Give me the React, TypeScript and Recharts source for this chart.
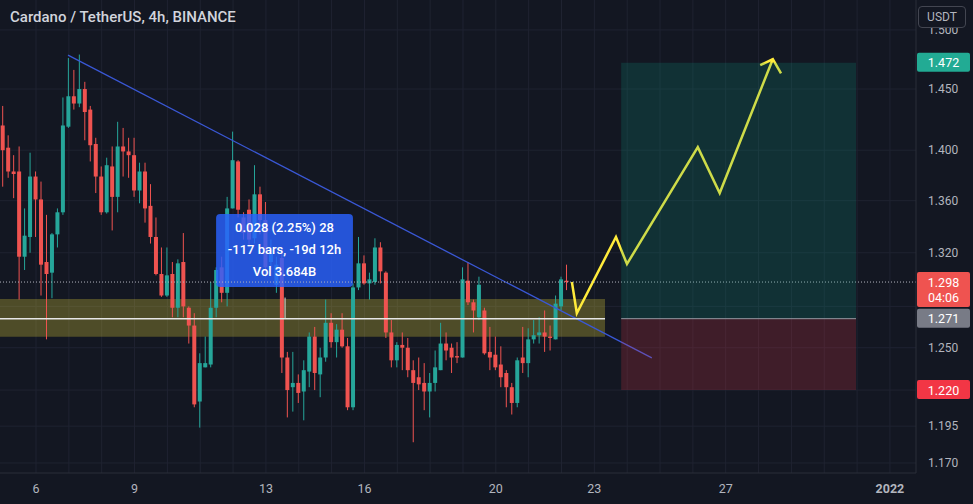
import {
  Bar,
  CartesianGrid,
  ComposedChart,
  Line,
  ReferenceArea,
  ReferenceLine,
  XAxis,
  YAxis,
} from "recharts";

const BG = "#131722";
const UP = "#26a69a";
const DOWN = "#ef5350";
const TEXT = "#b2b5be";
const FONT = "Roboto, 'Noto Sans', sans-serif";

// ADA/USDT 4h candles, index 0 = Dec 5 00:00
const opens = [
  1.420, 1.402, 1.383, 1.383, 1.317, 1.332, 1.379, 1.361, 1.313, 1.305,
  1.334, 1.351, 1.419, 1.444, 1.438, 1.450, 1.433, 1.405, 1.379, 1.351,
  1.387, 1.363, 1.403, 1.399, 1.396, 1.368, 1.383, 1.356, 1.332, 1.304,
  1.288, 1.304, 1.279, 1.313, 1.279, 1.266, 1.212, 1.236, 1.238, 1.279,
  1.309, 1.290, 1.354, 1.391, 1.347, 1.353, 1.331, 1.365, 1.345, 1.313,
  1.296, 1.316, 1.243, 1.222, 1.225, 1.219, 1.233, 1.258, 1.231, 1.243,
  1.268, 1.254, 1.263, 1.251, 1.208, 1.294, 1.312, 1.297, 1.298, 1.324,
  1.305, 1.261, 1.241, 1.252, 1.250, 1.234, 1.229, 1.225, 1.219, 1.225,
  1.234, 1.253, 1.250, 1.244, 1.243, 1.299, 1.283, 1.272, 1.277, 1.247,
  1.245, 1.238, 1.232, 1.222, 1.211, 1.243, 1.239, 1.256, 1.259, 1.261,
  1.258, 1.256, 1.280, 1.299,
];
const highs = [
  1.436, 1.412, 1.396, 1.403, 1.354, 1.398, 1.383, 1.375, 1.349, 1.335,
  1.354, 1.443, 1.476, 1.466, 1.479, 1.456, 1.436, 1.410, 1.387, 1.394,
  1.403, 1.423, 1.418, 1.410, 1.410, 1.390, 1.390, 1.373, 1.347, 1.324,
  1.324, 1.313, 1.315, 1.335, 1.280, 1.275, 1.246, 1.258, 1.298, 1.309,
  1.317, 1.363, 1.415, 1.392, 1.351, 1.361, 1.388, 1.371, 1.359, 1.330,
  1.317, 1.322, 1.247, 1.247, 1.231, 1.241, 1.261, 1.265, 1.250, 1.285,
  1.275, 1.267, 1.275, 1.257, 1.297, 1.332, 1.318, 1.305, 1.331, 1.328,
  1.306, 1.270, 1.254, 1.261, 1.257, 1.241, 1.243, 1.239, 1.232, 1.248,
  1.268, 1.261, 1.253, 1.254, 1.309, 1.313, 1.285, 1.302, 1.279, 1.265,
  1.258, 1.251, 1.234, 1.225, 1.243, 1.265, 1.264, 1.270, 1.272, 1.277,
  1.266, 1.288, 1.302, 1.311,
];
const lows = [
  1.371, 1.378, 1.362, 1.285, 1.307, 1.320, 1.332, 1.288, 1.256, 1.286,
  1.324, 1.349, 1.418, 1.433, 1.435, 1.408, 1.391, 1.366, 1.349, 1.350,
  1.337, 1.351, 1.379, 1.378, 1.363, 1.358, 1.343, 1.327, 1.303, 1.287,
  1.287, 1.272, 1.272, 1.272, 1.253, 1.208, 1.194, 1.236, 1.236, 1.272,
  1.283, 1.280, 1.354, 1.347, 1.330, 1.324, 1.327, 1.334, 1.302, 1.307,
  1.290, 1.232, 1.201, 1.205, 1.211, 1.199, 1.222, 1.220, 1.215, 1.240,
  1.250, 1.243, 1.250, 1.206, 1.206, 1.292, 1.296, 1.285, 1.296, 1.297,
  1.257, 1.236, 1.236, 1.234, 1.229, 1.184, 1.220, 1.206, 1.201, 1.219,
  1.234, 1.241, 1.232, 1.239, 1.243, 1.281, 1.261, 1.270, 1.245, 1.234,
  1.234, 1.222, 1.208, 1.203, 1.208, 1.232, 1.229, 1.253, 1.253, 1.247,
  1.248, 1.256, 1.277, 1.292,
];
const closes = [
  1.400, 1.383, 1.381, 1.317, 1.333, 1.379, 1.361, 1.311, 1.304, 1.334,
  1.351, 1.420, 1.444, 1.438, 1.450, 1.431, 1.404, 1.379, 1.351, 1.388,
  1.363, 1.403, 1.399, 1.396, 1.368, 1.383, 1.354, 1.332, 1.304, 1.288,
  1.303, 1.279, 1.312, 1.280, 1.266, 1.210, 1.239, 1.239, 1.279, 1.307,
  1.290, 1.354, 1.392, 1.353, 1.335, 1.330, 1.365, 1.345, 1.309, 1.322,
  1.311, 1.243, 1.220, 1.225, 1.218, 1.234, 1.258, 1.232, 1.243, 1.268,
  1.254, 1.263, 1.251, 1.208, 1.294, 1.312, 1.297, 1.300, 1.324, 1.306,
  1.261, 1.241, 1.252, 1.250, 1.234, 1.225, 1.224, 1.219, 1.225, 1.236,
  1.253, 1.248, 1.243, 1.243, 1.300, 1.283, 1.277, 1.296, 1.246, 1.243,
  1.236, 1.229, 1.222, 1.211, 1.241, 1.239, 1.256, 1.259, 1.261, 1.258,
  1.257, 1.282, 1.300, 1.298,
];

// time axis (candle index of each day label)
const xTicks = [6, 24, 48, 66, 90, 108, 132, 162];
const xLabels = ["6", "9", "13", "16", "20", "23", "27", "2022"];
const dayLines = [
  6, 12, 18, 24, 30, 36, 42, 48, 54, 60, 66, 72, 78, 84, 90, 96, 102, 108,
  114, 120, 126, 132, 138, 144, 150, 156, 162,
];
const yTicks = [1.17, 1.195, 1.25, 1.32, 1.36, 1.4, 1.45, 1.5];
const yGrid = [1.17, 1.195, 1.22, 1.25, 1.28, 1.32, 1.36, 1.4, 1.45, 1.5];

const X_MIN = -0.577;
const X_MAX = 166.76;
const Y_MIN = 1.1633;
const Y_MAX = 1.526;

// drawings
const trendIdx = [11.85, 118.5];
const trendPrice = [1.4785, 1.2427];
const zoneEnd = 109.95;
const zoneTop = 1.2854;
const zoneBottom = 1.2578;
const zoneMid = 1.271;
const rrIdx = [112.9, 155.8];
const target = 1.472;
const entry = 1.271;
const stop = 1.22;
const pathIdx = [103.9, 104.8, 111.95, 113.96, 126.9, 130.9, 140.6];
const pathPrice = [1.298, 1.275, 1.332, 1.3115, 1.4025, 1.366, 1.475];
const headIdx = [138.3, 140.6, 142.1];
const headPrice = [1.47, 1.475, 1.463];
const measureIdx = [38.9, 63.9];
const measurePrice = [1.2943, 1.3497];
const measureLines = ["0.028 (2.25%) 28", "-117 bars, -19d 12h", "Vol 3.684B"];
const arrowIdx = [51.5, 51.5];
const arrowPrice = [1.2708, 1.2865];
const countdown = "04:06";

const candles = opens.map((o, i) => ({
  i,
  open: o,
  high: highs[i],
  low: lows[i],
  close: closes[i],
  range: [lows[i], highs[i]],
}));
const path = pathIdx.map((i, k) => ({ i, p: pathPrice[k] }));
const head = headIdx.map((i, k) => ({ i, p: headPrice[k] }));
const lastClose = closes[closes.length - 1];

function Candle(props: any) {
  const { x, y, width, height, payload } = props;
  if (!payload) return null;
  const top = Math.min(y, y + height);
  const bottom = Math.max(y, y + height);
  const lh = Math.log(payload.high);
  const span = lh - Math.log(payload.low) || 1;
  // body edges placed along the same log mapping as the wick
  const py = (v: number) => top + ((lh - Math.log(v)) / span) * (bottom - top);
  const color = payload.close >= payload.open ? UP : DOWN;
  const cx = x + width / 2;
  const bTop = py(Math.max(payload.open, payload.close));
  const bBot = py(Math.min(payload.open, payload.close));
  return (
    <g>
      <line x1={cx} x2={cx} y1={top} y2={bottom} stroke={color} strokeWidth={1} />
      <rect x={cx - 2} y={bTop} width={4} height={Math.max(1, bBot - bTop)} fill={color} />
    </g>
  );
}

function PriceTag(props: any) {
  const { viewBox, text, sub, bg } = props;
  if (!viewBox) return null;
  const x = viewBox.x + viewBox.width + 1;
  const cy = viewBox.y;
  return (
    <g>
      <rect x={x} y={cy - 10} width={53} height={sub ? 35 : 19} rx={2} fill={bg} />
      <text x={x + 26.5} y={cy + 4.5} textAnchor="middle" fill="#fff" fontSize={12.5}>
        {text}
      </text>
      {sub && (
        <text x={x + 26.5} y={cy + 19.5} textAnchor="middle" fill="#fff" fontSize={12.5}>
          {sub}
        </text>
      )}
    </g>
  );
}

function MeasureText(props: any) {
  const { viewBox } = props;
  if (!viewBox) return null;
  const cx = viewBox.x + viewBox.width / 2;
  return (
    <g>
      {measureLines.map((t, k) => (
        <text
          key={k}
          x={cx}
          y={viewBox.y + 18.5 + k * 22}
          textAnchor="middle"
          fill="#fff"
          fontSize={13}
          fontWeight={500}
        >
          {t}
        </text>
      ))}
    </g>
  );
}

function TimeTick(props: any) {
  const { x, y, payload } = props;
  const label = xLabels[xTicks.indexOf(payload.value)];
  return (
    <text
      x={x}
      y={y + 12}
      textAnchor="middle"
      fill={TEXT}
      fontSize={12.5}
      fontWeight={label === "2022" ? 700 : 400}
    >
      {label}
    </text>
  );
}

export default function App() {
  return (
    <div
      style={{
        position: "relative",
        width: 973,
        height: 504,
        background: BG,
        fontFamily: FONT,
        overflow: "hidden",
      }}
    >
      <style>{`body{margin:0;background:${BG}}`}</style>
      <ComposedChart
        width={973}
        height={504}
        data={candles}
        margin={{ top: 0, right: 0, bottom: 0, left: 0 }}
      >
        <CartesianGrid
          stroke="#1f2331"
          horizontalValues={yGrid}
          verticalValues={dayLines}
        />
        <XAxis
          dataKey="i"
          type="number"
          domain={[X_MIN, X_MAX]}
          allowDataOverflow
          ticks={xTicks}
          interval={0}
          tick={<TimeTick />}
          tickLine={false}
          tickMargin={2}
          height={31}
          axisLine={{ stroke: "#2a2e39" }}
        />
        <YAxis
          orientation="right"
          scale="log"
          domain={[Y_MIN, Y_MAX]}
          allowDataOverflow
          ticks={yTicks}
          interval={0}
          tickFormatter={(v: number) => v.toFixed(3)}
          tick={{ fill: TEXT, fontSize: 12 }}
          tickLine={false}
          tickMargin={6}
          width={57}
          axisLine={{ stroke: "#2a2e39" }}
        />

        {/* support zone */}
        <ReferenceArea
          x1={X_MIN}
          x2={zoneEnd}
          y1={zoneBottom}
          y2={zoneTop}
          fill="#ffeb3b"
          fillOpacity={0.25}
          stroke="none"
        />

        <Bar
          dataKey="range"
          barSize={4}
          isAnimationActive={false}
          shape={(p: any) => <Candle {...p} />}
        />

        {/* descending trendline */}
        <ReferenceLine
          segment={[
            { x: trendIdx[0], y: trendPrice[0] },
            { x: trendIdx[1], y: trendPrice[1] },
          ]}
          stroke="#3a58d6"
          strokeWidth={1.3}
        />
        <ReferenceLine
          segment={[
            { x: X_MIN, y: zoneMid },
            { x: zoneEnd, y: zoneMid },
          ]}
          stroke="#e6e6e6"
          strokeWidth={1.5}
        />

        {/* projected path */}
        <Line
          data={path}
          dataKey="p"
          stroke="#ffeb3b"
          strokeWidth={2.5}
          dot={false}
          activeDot={false}
          legendType="none"
          isAnimationActive={false}
        />
        <Line
          data={head}
          dataKey="p"
          stroke="#ffeb3b"
          strokeWidth={2.5}
          dot={false}
          activeDot={false}
          legendType="none"
          isAnimationActive={false}
        />

        {/* long position tool, drawn over the path */}
        <ReferenceArea
          x1={rrIdx[0]}
          x2={rrIdx[1]}
          y1={entry}
          y2={target}
          fill="#089981"
          fillOpacity={0.2}
          stroke="none"
          zIndex={450}
        />
        <ReferenceArea
          x1={rrIdx[0]}
          x2={rrIdx[1]}
          y1={stop}
          y2={entry}
          fill="#f23645"
          fillOpacity={0.2}
          stroke="none"
          zIndex={450}
        />
        <ReferenceLine
          segment={[
            { x: rrIdx[0], y: entry },
            { x: rrIdx[1], y: entry },
          ]}
          stroke="#9598a1"
          strokeWidth={1}
          zIndex={460}
        />

        {/* last price */}
        <ReferenceLine
          y={lastClose}
          stroke="#b2b5be"
          strokeDasharray="1 2"
          strokeWidth={1}
        />

        {/* measure tool */}
        <ReferenceArea
          x1={measureIdx[0]}
          x2={measureIdx[1]}
          y1={measurePrice[0]}
          y2={measurePrice[1]}
          fill="#2962ff"
          fillOpacity={0.82}
          stroke="none"
          radius={4}
          zIndex={350}
          label={<MeasureText />}
        />
        <ReferenceLine
          segment={[
            { x: arrowIdx[0], y: arrowPrice[0] },
            { x: arrowIdx[1], y: arrowPrice[1] },
          ]}
          stroke="#e0e0e0"
          strokeWidth={1}
        />

        {/* price axis tags */}
        <ReferenceLine
          y={target}
          stroke="none"
          label={<PriceTag text={target.toFixed(3)} bg="#22ab94" />}
        />
        <ReferenceLine
          y={lastClose}
          stroke="none"
          label={<PriceTag text={lastClose.toFixed(3)} sub={countdown} bg="#ef5350" />}
        />
        <ReferenceLine
          y={entry}
          stroke="none"
          label={<PriceTag text={entry.toFixed(3)} bg="#787b86" />}
        />
        <ReferenceLine
          y={stop}
          stroke="none"
          label={<PriceTag text={stop.toFixed(3)} bg="#f23645" />}
        />
      </ComposedChart>

      <div
        style={{
          position: "absolute",
          left: 10,
          top: 8,
          fontSize: 15,
          fontWeight: 500,
          color: "#d1d4dc",
          whiteSpace: "nowrap",
        }}
      >
        Cardano / TetherUS, 4h, BINANCE
      </div>
      <div
        style={{
          position: "absolute",
          left: 918,
          top: 6,
          width: 48,
          height: 22,
          boxSizing: "border-box",
          border: "1px solid #434651",
          borderRadius: 4,
          background: BG,
          color: TEXT,
          fontSize: 12,
          lineHeight: "20px",
          textAlign: "center",
        }}
      >
        USDT
      </div>
    </div>
  );
}
